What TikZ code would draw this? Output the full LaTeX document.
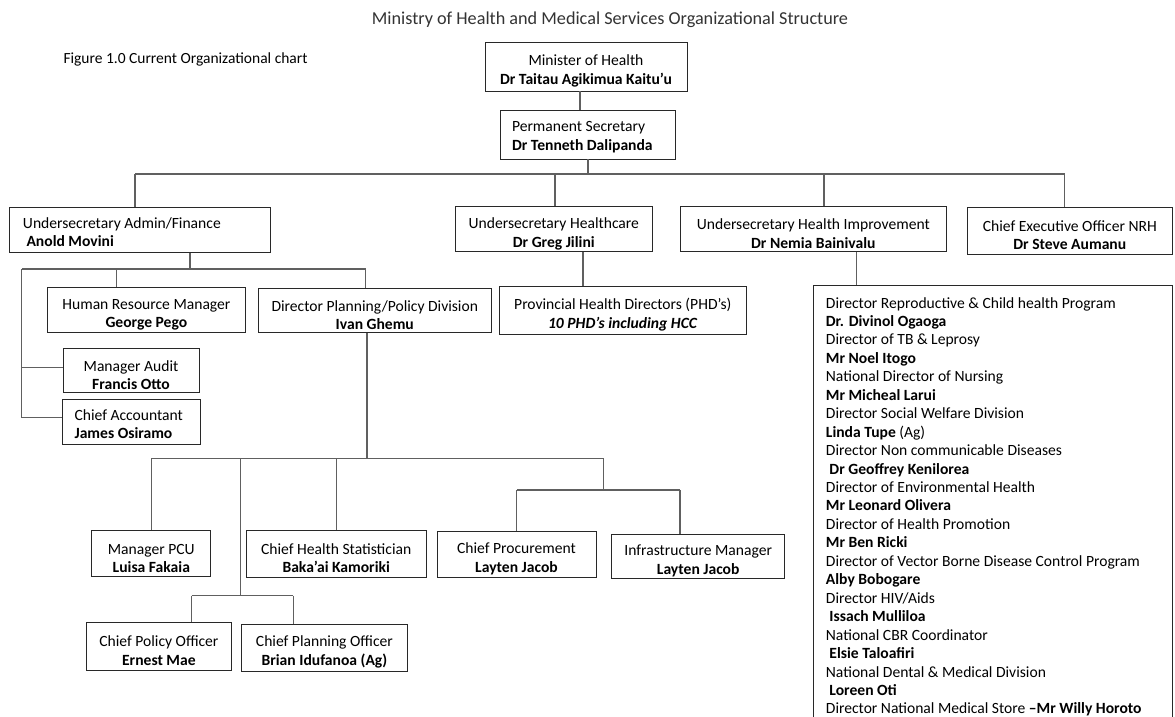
\documentclass[tikz,border=0pt]{standalone}
\usepackage{fontspec}
\setmainfont{Carlito}
\usetikzlibrary{positioning,calc}
\definecolor{linkgray}{RGB}{96,96,96}
\definecolor{boxline}{RGB}{40,40,40}
\newcommand{\boxstrut}{\rule{0pt}{20pt}}
\begin{document}
\begin{tikzpicture}[x=1pt,y=-1pt,
   post/.style={draw=boxline,line width=0.9pt,align=center,inner sep=0pt,
     font=\fontsize{15.6}{18.4}\selectfont},
   lpost/.style={post,align=flush left,execute at begin node={\rule{0pt}{15.5pt}}},
   link/.style={draw=linkgray,line width=1.3pt}]
   \useasboundingbox (0,0) rectangle (1175,717);
   \node (title) at (610,20) {\fontsize{18.2}{20}\selectfont\color{black!80}Ministry of Health and Medical Services Organizational Structure};
   \node [anchor=west] (caption) at (60,59) {\fontsize{15.5}{18}\selectfont Figure 1.0 Current Organizational chart};
   % top of the chart
   \node [post,minimum width=202,minimum height=49] (minister) at (586,66.5)
     {\boxstrut Minister of Health\\\textbf{Dr Taitau Agikimua Kaitu’u}};
   \node [lpost,inner xsep=11.5pt,text width=152pt,minimum height=49] (secretary) at (588,134.5)
     {Permanent Secretary\\\textbf{Dr Tenneth Dalipanda}};
   \node [lpost,inner xsep=13.4pt,text width=234pt,minimum height=45.4] (admin) at (140,230)
     {Undersecretary Admin/Finance\\\textbf{ Anold Movini}};
   \node [post,minimum width=197.7,minimum height=45] (healthcare) at (553.8,229.2)
     {\boxstrut Undersecretary Healthcare\\\textbf{Dr Greg Jilini}};
   \node [post,minimum width=266.7,minimum height=45.7] (improvement) at (813.3,228.9)
     {\boxstrut Undersecretary Health Improvement\\\textbf{Dr Nemia Bainivalu}};
   \node [post,minimum width=204.3,minimum height=46.7] (ceo) at (1069.8,230.7)
     {\boxstrut Chief Executive Officer NRH\\\textbf{Dr Steve Aumanu}};
   % second level
   \node [post,minimum width=198.7,minimum height=45] (hr) at (146.4,309.8)
     {\boxstrut Human Resource Manager\\\textbf{George Pego}};
   \node [post,minimum width=232.3,minimum height=44] (planning) at (374.8,310.3)
     {\boxstrut Director Planning/Policy Division\\\textbf{Ivan Ghemu}};
   \node [post,minimum width=247.7,minimum height=47.3] (phd) at (622.8,310.3)
     {\boxstrut Provincial Health Directors (PHD’s)\\\textbf{\itshape 10 PHD’s including HCC}};
   \node [post,minimum width=136,minimum height=44] (audit) at (131,370.3)
     {\boxstrut Manager Audit\\\textbf{Francis Otto}};
   \node [lpost,inner xsep=11.8pt,text width=114pt,minimum height=45] (accountant) at (131.6,421.8)
     {Chief Accountant\\\textbf{James Osiramo}};
   \node [post,minimum width=358.7,minimum height=432] (directors) at (992.6,501) {};
   \node [anchor=north west,align=left,inner sep=0pt,font=\fontsize{15.6}{18.45}\selectfont]
     (names) at (825.7,297)
     {Director Reproductive \& Child health Program\\
      \textbf{Dr. Divinol Ogaoga}\\
      Director of TB \& Leprosy\\
      \textbf{Mr Noel Itogo}\\
      National Director of Nursing\\
      \textbf{Mr Micheal Larui}\\
      Director Social Welfare Division\\
      \textbf{Linda Tupe} (Ag)\\
      Director Non communicable Diseases\\
      \textbf{\ Dr Geoffrey Kenilorea}\\
      Director of Environmental Health\\
      \textbf{Mr Leonard Olivera}\\
      Director of Health Promotion\\
      \textbf{Mr Ben Ricki}\\
      Director of Vector Borne Disease Control Program\\
      \textbf{Alby Bobogare}\\
      Director HIV/Aids\\
      \textbf{\ Issach Mulliloa}\\
      National CBR Coordinator\\
      \textbf{\ Elsie Taloafiri}\\
      National Dental \& Medical Division\\
      \textbf{\ Loreen Oti}\\
      Director National Medical Store \textbf{–Mr Willy Horoto}};
   % planning division
   \node [post,minimum width=119,minimum height=46] (pcu) at (151.3,553.7)
     {\boxstrut Manager PCU\\\textbf{Luisa Fakaia}};
   \node [post,minimum width=179.6,minimum height=47.3] (statistician) at (336.2,553.7)
     {\boxstrut Chief Health Statistician\\\textbf{Baka’ai Kamoriki}};
   \node [post,minimum width=159,minimum height=46.7] (procurement) at (516.5,554.3)
     {\boxstrut Chief Procurement\\\textbf{Layten Jacob}};
   \node [post,minimum width=173,minimum height=44.3] (infrastructure) at (698.2,556.2)
     {\boxstrut Infrastructure Manager\\\textbf{Layten Jacob}};
   \node [post,minimum width=144.3,minimum height=47.7] (policy) at (158.9,646.2)
     {\boxstrut Chief Policy Officer\\\textbf{Ernest Mae}};
   \node [post,minimum width=165.2,minimum height=47] (planofficer) at (324.4,647.5)
     {\boxstrut Chief Planning Officer\\\textbf{Brian Idufanoa (Ag)}};
   % junctions
   \coordinate (topL) at (135,174);
   \coordinate (topR) at (1064.5,174);
   \coordinate (adminbus) at (190,269);
   \coordinate (adminL) at (21.8,269);
   \coordinate (adminR) at (365.5,269);
   \coordinate (planbus) at (367,458.3);
   \coordinate (planL) at (151.5,458.3);
   \coordinate (planR) at (603.6,458.3);
   \coordinate (policybus) at (240.8,595.7);
   \coordinate (procbus) at (603.6,490);
   \path[link]
    ([xshift=-6pt]minister.south) -- ([xshift=-6pt]minister.south |- secretary.north)
    (secretary.south) -- (secretary.south |- topL)
    (topL) -- (topR)
    (topL) -- (topL |- admin.north)
    (555,174) -- (555,0 |- healthcare.north)
    (824,174) -- (824,0 |- improvement.north)
    (topR) -- (topR |- ceo.north)
    (adminbus |- admin.south) -- (adminbus)
    (adminL) -- (adminR)
    (116.7,269) -- (116.7,0 |- hr.north)
    (adminR) -- (adminR |- planning.north)
    (adminL) -- (21.8,417.7) -- (21.8,417.7 -| accountant.west)
    (21.8,367.3) -- (21.8,367.3 -| audit.west)
    (583,0 |- healthcare.south) -- (583,0 |- phd.north)
    (856.7,0 |- improvement.south) -- (856.7,0 |- directors.north)
    (planbus |- planning.south) -- (planbus)
    (planL) -- (planR)
    (planL) -- (planL |- pcu.north)
    (statistician.north |- planL) -- (statistician.north)
    (240.8,458.3) -- (policybus)
    (191.8,595.7) -- (293.4,595.7)
    (191.8,595.7) -- (191.8,0 |- policy.north)
    (293.4,595.7) -- (293.4,0 |- planofficer.north)
    (planR) -- (procbus)
    (516.8,490) -- (680,490)
    (516.8,490) -- (516.8,0 |- procurement.north)
    (680,490) -- (680,0 |- infrastructure.north);
\end{tikzpicture}
\end{document}
